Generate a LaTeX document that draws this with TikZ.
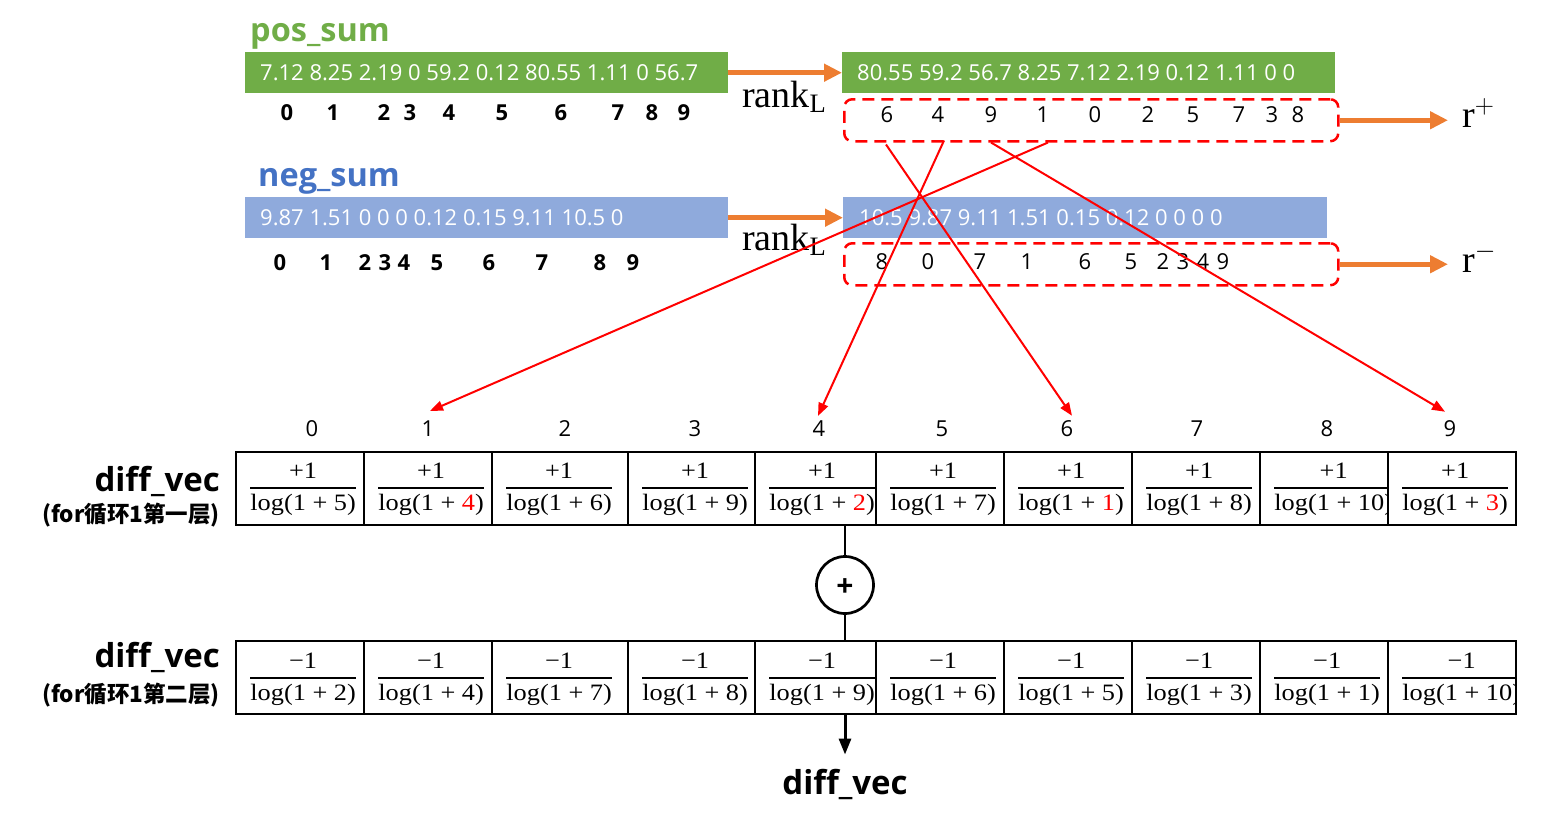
\RequirePackage{fix-cm}
\documentclass[tikz,border=0pt]{standalone}
\usepackage{fontspec}
\setmainfont{Liberation Serif}
\newfontfamily\fracf[FakeStretch=1.12]{Liberation Serif}
\newfontfamily\sansf{Open Sans}
\newfontfamily\cjkf{Noto Sans CJK SC}
\usetikzlibrary{arrows.meta,calc}
\definecolor{pgreen}{HTML}{70AD47}
\definecolor{nblue}{HTML}{4472C4}
\definecolor{lblue}{HTML}{8FAADC}
\definecolor{orng}{HTML}{ED7D31}
\newcommand{\myfr}[2]{$\displaystyle{\mbox{\fracf #1}\above 1.6pt\mbox{\fracf log(1 + #2)}}$}
\begin{document}
\begin{tikzpicture}[x=1pt,y=1pt,
  bar/.style={draw=none, minimum height=41pt, inner sep=0pt, anchor=north west},
  bartxt/.style={font=\sansf\fontsize{22}{26}\selectfont, text=white, inner sep=0pt, anchor=west},
  ttl/.style={font=\sansf\bfseries\fontsize{32.5}{36}\selectfont, inner sep=0pt, anchor=base west},
  idxb/.style={font=\sansf\bfseries\fontsize{22}{26}\selectfont, inner sep=0pt},
  idxr/.style={font=\sansf\fontsize{22}{26}\selectfont, inner sep=0pt},
  rbox/.style={draw=red, dash pattern=on 12pt off 7pt, line width=2.5pt, rounded corners=8pt, inner sep=0pt, anchor=north west, minimum width=494pt, minimum height=42pt},
  oarrow/.style={draw=orng, line width=5pt, -{Triangle[length=18pt,width=17pt]}},
  rarrow/.style={draw=red, line width=2pt, -{Triangle[length=13pt,width=10pt]}},
  mathlbl/.style={font=\fontsize{38}{42}\selectfont, inner sep=0pt, anchor=base west},
  fracn/.style={font=\fontsize{23.5}{28}\selectfont, inner sep=0pt, anchor=base west},
  cellbox/.style={draw=black, line width=2pt, inner sep=0pt, anchor=north west, minimum height=73pt},
  leftlbl/.style={font=\sansf\bfseries\fontsize{33}{36}\selectfont, inner sep=0pt, anchor=base east},
  leftsub/.style={font=\cjkf\bfseries\fontsize{22.5}{26}\selectfont, inner sep=0pt, anchor=east},
  blk/.style={draw=black, line width=2.7pt}
]
\useasboundingbox (0,0) rectangle (1552,-817);

% ---------- titles ----------
\node[ttl, text=pgreen] (pt) at (250,-41) {pos\_sum};
\node[ttl, text=nblue] (nt) at (258,-186) {neg\_sum};

% ---------- bars ----------
\node[bar, fill=pgreen, minimum width=483pt] (pbar1) at (245,-52) {};
\node[bar, fill=pgreen, minimum width=493pt] (pbar2) at (842,-52) {};
\node[bar, fill=lblue, minimum width=483pt] (nbar1) at (245,-197) {};
\node[bar, fill=lblue, minimum width=484pt] (nbar2) at (843,-197) {};

\node[bartxt] (pt1) at (260,-72.5) {7.12 8.25 2.19 0 59.2 0.12 80.55 1.11 0 56.7};
\node[bartxt] (pt2) at (857,-72.5) {80.55 59.2 56.7 8.25 7.12 2.19 0.12 1.11 0 0};
\node[bartxt] (nt1) at (260,-217.5) {9.87 1.51 0 0 0 0.12 0.15 9.11 10.5 0};
\node[bartxt] (nt2) at (859,-217.5) {10.5 9.87 9.11 1.51 0.15 0.12 0 0 0 0};

% ---------- indices under bars ----------
\foreach \d/\x in {0/287,1/333,2/384,3/410,4/449,5/502,6/561,7/618,8/652,9/684}
  \node[idxb] (pi\d) at (\x,-113) {\d};
\foreach \d/\x in {0/280,1/326,2/365,3/385,4/404,5/437,6/489,7/542,8/600,9/633}
  \node[idxb] (ni\d) at (\x,-263) {\d};

% ---------- dashed boxes ----------
\node[rbox] (pbox) at (843,-98) {};
\node[rbox] (nbox) at (843,-242) {};
\foreach \d/\x in {6/887,4/938,9/991,1/1043,0/1095,2/1148,5/1193,7/1239,3/1272,8/1298}
  \node[idxr] (pr\d) at (\x,-115) {\d};
\foreach \d/\x in {8/882,0/928,7/980,1/1027,6/1085,5/1131,2/1163,3/1183,4/1203,9/1223}
  \node[idxr] (nr\d) at (\x,-262) {\d};

% ---------- rank labels and r+ r- ----------
\node[mathlbl] (rk1) at (742,-107) {$\mathrm{rank}_{\mathrm{L}}$};
\node[mathlbl] (rk2) at (742,-250) {$\mathrm{rank}_{\mathrm{L}}$};
\node[mathlbl] (rp) at (1462,-127) {$\mathrm{r}^{+}$};
\node[mathlbl] (rm) at (1462,-272) {$\mathrm{r}^{-}$};

% ---------- orange arrows ----------
\draw[oarrow] (pbar1.east) -- (pbar2.west);
\draw[oarrow] (nbar1.east) -- (nbar2.west);
\draw[oarrow] (pbox.east) -- ($(pbox.east -| rp.west)+(-14,0)$);
\draw[oarrow] (nbox.east) -- ($(nbox.east -| rm.west)+(-14,0)$);

% ---------- table labels ----------
\foreach \d/\x in {0/312,1/428,2/565,3/695,4/819,5/942,6/1067,7/1197,8/1327,9/1450}
  \node[idxr] (t\d) at (\x,-429) {\d};

% ---------- table 1 ----------
\foreach \i/\xl/\xr/\d/\c in {0/235/363/5/black,1/363/491/4/red,2/491/627/6/black,3/627/754/9/black,4/754/875/2/red,5/875/1003/7/black,6/1003/1131/1/red,7/1131/1259/8/black,8/1259/1387/10/black,9/1387/1515/3/red}{
  \begin{scope}
    \clip (\xl,-451) rectangle (\xr,-524);
    \node[fracn] (fa\i) at (\xl+14,-494) {\myfr{+1}{{\color{\c}\d}}};
  \end{scope}
  \node[cellbox, minimum width=\xr-\xl] (ca\i) at (\xl,-451) {};
}
\node[draw=black, line width=2pt, inner sep=0pt, anchor=north west, minimum width=1280pt, minimum height=73pt] (tab1) at (235,-451) {};

% ---------- table 2 ----------
\foreach \i/\xl/\xr/\d in {0/235/363/2,1/363/491/4,2/491/627/7,3/627/754/8,4/754/875/9,5/875/1003/6,6/1003/1131/5,7/1131/1259/3,8/1259/1387/1,9/1387/1515/10}{
  \begin{scope}
    \clip (\xl,-640) rectangle (\xr,-713);
    \node[fracn] (fb\i) at (\xl+14,-684) {\myfr{−1}{\d}};
  \end{scope}
  \node[cellbox, minimum width=\xr-\xl] (cb\i) at (\xl,-640) {};
}
\node[draw=black, line width=2pt, inner sep=0pt, anchor=north west, minimum width=1280pt, minimum height=73pt] (tab2) at (235,-640) {};

% ---------- left labels ----------
\node[leftlbl] (l1) at (220,-491) {diff\_vec};
\node[leftsub] (l1s) at (220,-515) {(for循环1第一层)};
\node[leftlbl] (l2) at (220,-667) {diff\_vec};
\node[leftsub] (l2s) at (220,-695) {(for循环1第二层)};

% ---------- plus circle and output ----------
\node[circle, blk, minimum size=57pt, inner sep=0pt] (plus) at (845,-585) {};
\node[font=\sansf\bfseries\fontsize{30}{30}\selectfont, inner sep=0pt] (plustxt) at ($(plus.center)+(0,-3)$) {+};
\draw[blk] (plus.north) -- (plus.north |- tab1.south);
\draw[blk] (plus.south) -- (plus.south |- tab2.north);
\node[font=\sansf\bfseries\fontsize{33}{36}\selectfont, inner sep=0pt, anchor=base] (dv) at (845,-794) {diff\_vec};
\draw[draw=black, line width=3pt, -{Triangle[length=16pt,width=12pt]}] (plus.south |- tab2.south) -- ($(dv.north)+(0,14)$);

% ---------- red arrows ----------
\draw[rarrow] ($(pr1 |- pbox.south)+(5,0)$) -- ($(t1.north)+(2,10)$);
\draw[rarrow] ($(pr4 |- pbox.south)+(6,2)$) -- ($(t4.north)+(-1,5)$);
\draw[rarrow] ($(pr6 |- pbox.south)+(-1,-2)$) -- ($(t6.north)+(5,5)$);
\draw[rarrow] ($(pr9 |- pbox.south)+(0,0)$) -- ($(t9.north)+(-5,9)$);
\end{tikzpicture}
\end{document}
